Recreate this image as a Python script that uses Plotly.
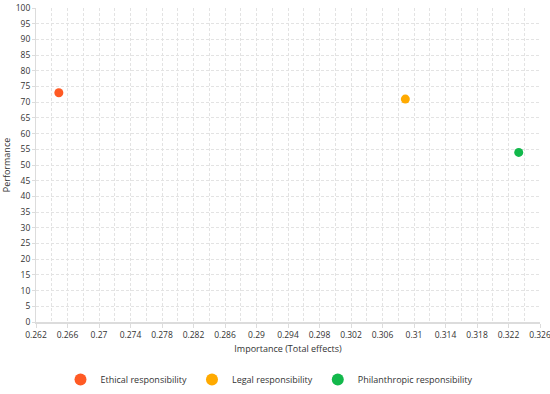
import plotly.graph_objects as go

names = ["Ethical responsibility", "Legal responsibility", "Philanthropic responsibility"]
importance = [0.2649, 0.3089, 0.3233]
performance = [73.0, 71.0, 54.0]
colors = ["#FF5A24", "#FFAA00", "#12B84B"]
x_range = [0.262, 0.326]
y_range = [0, 100]

FONT = "Open Sans"
fig = go.Figure()
for n, x, y, c in zip(names, importance, performance, colors):
    fig.add_trace(go.Scatter(x=[x], y=[y], mode="markers", name=n,
                             marker=dict(color=c, size=9, line=dict(width=0))))

grid = "#e3e3e3"
dash = "3px,2px"
fig.update_layout(
    width=550, height=394,
    margin=dict(l=36, r=10, t=8, b=72),
    paper_bgcolor="white", plot_bgcolor="white",
    font=dict(family=FONT, size=8.5, color="#333333"),
    showlegend=True,
    legend=dict(orientation="h", xref="container", x=0.49, xanchor="center",
                yref="container", y=0.0, yanchor="bottom",
                font=dict(size=9, color="#333333"), itemwidth=30,
                itemsizing="constant"),
    xaxis=dict(range=[x_range[0], x_range[1] + 1e-9], dtick=0.004, tick0=0.262,
               showgrid=True, gridcolor=grid, griddash=dash, gridwidth=1,
               minor=dict(dtick=0.002, tick0=0.262, showgrid=True, gridcolor=grid,
                          griddash=dash, gridwidth=1),
               showline=True, linecolor="#dcdcdc", linewidth=2,
               ticks="outside", ticklen=4, tickcolor="#dcdcdc",
               ticklabeloverflow="allow",
               zeroline=False, automargin=False,
               title=dict(text="Importance (Total effects)", font=dict(size=9), standoff=6)),
    yaxis=dict(range=y_range, dtick=5,
               showgrid=True, gridcolor=grid, griddash=dash, gridwidth=1,
               showline=True, linecolor="#dcdcdc", linewidth=1,
               ticks="outside", ticklen=3, tickcolor="#dcdcdc",
               zeroline=False, automargin=False,
               title=dict(text="Performance", font=dict(size=9), standoff=4)),
)
fig.write_html("out.html", config={"displayModeBar": False},
               post_script="document.body.style.margin='0';")
